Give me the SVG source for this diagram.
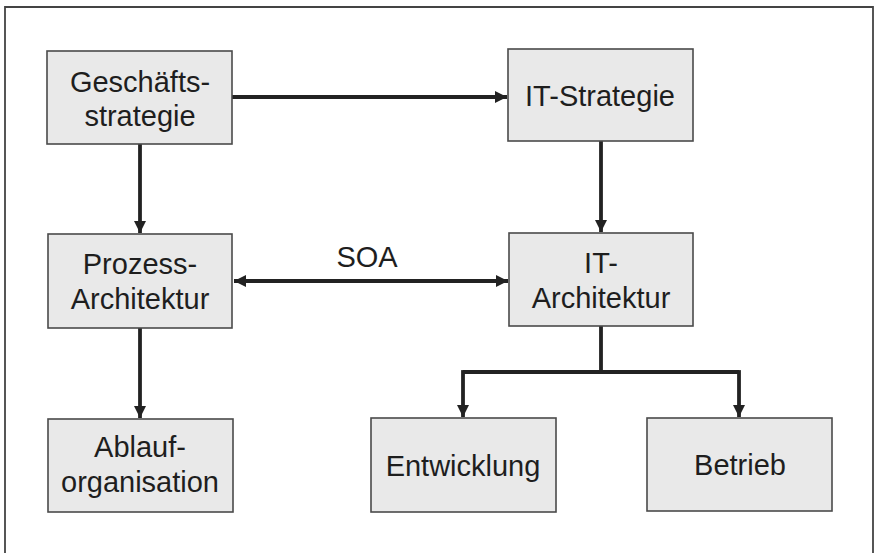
<svg xmlns="http://www.w3.org/2000/svg" width="876" height="553" viewBox="0 0 876 553">
<defs>
<style>
.box{fill:#e9e9e9;stroke:#4a4a4a;stroke-width:1.6}
.t{font-family:"Liberation Sans",Arial,sans-serif;font-size:29px;fill:#1e1e1e;text-anchor:middle}
.c{fill:none;stroke:#222;stroke-width:3.8}
</style>
<marker id="ah" viewBox="0 0 12 12" refX="12" refY="6" markerWidth="12" markerHeight="12" markerUnits="userSpaceOnUse" orient="auto-start-reverse">
<path d="M0,0 L12,6 L0,12 Z" fill="#222"/>
</marker>
</defs>
<rect width="876" height="553" fill="#fff"/>
<path d="M5,560 L5,7 L873,7 L873,560" fill="none" stroke="#444" stroke-width="1.8"/>
<g id="connectors">
<line class="c" x1="232" y1="97" x2="507" y2="97" marker-end="url(#ah)"/>
<line class="c" x1="140" y1="144" x2="140" y2="233" marker-end="url(#ah)"/>
<line class="c" x1="601" y1="141" x2="601" y2="232" marker-end="url(#ah)"/>
<line class="c" x1="234" y1="281" x2="508" y2="281" marker-start="url(#ah)" marker-end="url(#ah)"/>
<line class="c" x1="140" y1="328" x2="140" y2="418" marker-end="url(#ah)"/>
<path class="c" d="M601,326 L601,372 M463,372 L739,372" />
<line class="c" x1="463" y1="370.1" x2="463" y2="417" marker-end="url(#ah)"/>
<line class="c" x1="739" y1="370.1" x2="739" y2="417" marker-end="url(#ah)"/>
<text x="367" y="267" class="t">SOA</text>
</g>
<g id="geschaeftsstrategie">
<rect class="box" x="47" y="51" width="185" height="93"/>
<text x="140" y="92" class="t">Geschäfts-</text>
<text x="140" y="126" class="t">strategie</text>
</g>
<g id="it-strategie">
<rect class="box" x="508" y="49" width="185" height="92"/>
<text x="600" y="106" class="t">IT-Strategie</text>
</g>
<g id="prozess-architektur">
<rect class="box" x="48" y="234" width="184" height="94"/>
<text x="140" y="274" class="t">Prozess-</text>
<text x="140" y="309" class="t">Architektur</text>
</g>
<g id="it-architektur">
<rect class="box" x="509" y="233" width="184" height="93"/>
<text x="601" y="273" class="t">IT-</text>
<text x="601" y="308" class="t">Architektur</text>
</g>
<g id="ablauforganisation">
<rect class="box" x="48" y="419" width="185" height="93"/>
<text x="140" y="457" class="t">Ablauf-</text>
<text x="140" y="492" class="t">organisation</text>
</g>
<g id="entwicklung">
<rect class="box" x="371" y="418" width="185" height="94"/>
<text x="463" y="476" class="t">Entwicklung</text>
</g>
<g id="betrieb">
<rect class="box" x="647" y="418" width="185" height="93"/>
<text x="740" y="475" class="t">Betrieb</text>
</g>
</svg>
